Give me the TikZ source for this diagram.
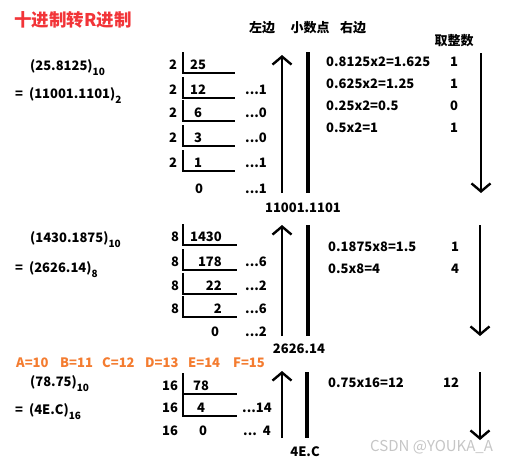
\documentclass[tikz,border=0pt]{standalone}
\usepackage{fontspec}
\setmainfont{Noto Sans CJK SC}
\usetikzlibrary{arrows.meta}
\definecolor{titlered}{RGB}{242,52,56}
\definecolor{hexorange}{RGB}{244,124,48}
\newcommand{\lowidx}[1]{\raisebox{-5pt}{\fontsize{10}{10}\selectfont #1}}

\begin{document}
\begin{tikzpicture}[x=1pt,y=-1pt,
  txt/.style={font=\bfseries\fontsize{13}{13}\selectfont,inner sep=0pt},
  bracket/.style={line width=2pt},
  divbar/.style={line width=4pt},
  uparr/.style={line width=2.4pt,-{Straight Barb[length=8pt,width=19pt,line width=2.4pt]}},
  downarr/.style={uparr}]%
  \useasboundingbox (0,0) rectangle (521,463);
  \fill[white] (0,0) rectangle (521,463);
  \node[txt,text=titlered,font=\bfseries\fontsize{17.5}{17.5}\selectfont,anchor=west] (title) at (14,20) {十进制转R进制};
  \node[txt] (left) at (262,28) {左边};
  \node[txt] (point) at (310,28) {小数点};
  \node[txt] (right) at (353,28) {右边};
  \node[txt] (takeint) at (454,41) {取整数};

  % 25.8125 -> base 2
  \node[txt,anchor=west] (numa) at (30,68) {(25.8125)\lowidx{10}};
  \node[txt,anchor=west] (resa) at (15,96) {=\ \ (11001.1101)\lowidx{2}};
  \foreach \q/\y [count=\i] in {25/65,12/90,6/113,3/138,1/163} {
    \node[txt] (da\i) at (173,\y) {2};
    \node[txt] (qa\i) at (198,\y) {\q};
    \draw[bracket] (183,\y-13) |- (235,\y+8);
  }
  \node[txt] (qa6) at (199,189) {0};
  \foreach \r/\y [count=\i] in {1/90,0/113,0/138,1/163,1/189}
  \node[txt,anchor=west] (ra\i) at (245,\y) {...\r};
  \coordinate (upa0) at (282,193);
  \coordinate (upa1) at (282,55);
  \draw[uparr] (upa0) -- (upa1);
  \coordinate (bara0) at (308,52);
  \coordinate (bara1) at (308,193);
  \draw[divbar] (bara0) -- (bara1);
  \node[txt] (binres) at (303,208) {11001.1101};
  \foreach \t/\d/\y [count=\i] in {0.8125x2=1.625/1/62,0.625x2=1.25/1/84,0.25x2=0.5/0/106,0.5x2=1/1/128} {
    \node[txt,anchor=west] (ma\i) at (326,\y) {\t};
    \node[txt] (ia\i) at (454,\y) {\d};
  }
  \coordinate (dna0) at (481,53);
  \coordinate (dna1) at (481,193);
  \draw[downarr] (dna0) -- (dna1);

  % 1430.1875 -> base 8
  \node[txt,anchor=west] (numb) at (30,240) {(1430.1875)\lowidx{10}};
  \node[txt,anchor=west] (resb) at (15,270) {=\ \ (2626.14)\lowidx{8}};
  \foreach \q/\y [count=\i] in {1430/237,178/262,22/286,2/309} {
    \node[txt] (db\i) at (175,\y) {8};
    \node[txt,anchor=east] (qb\i) at (222,\y) {\q};
    \draw[bracket] (183,\y-13) |- (237,\y+8);
  }
  \node[txt] (qb5) at (215,332) {0};
  \foreach \r/\y [count=\i] in {6/262,2/286,6/309,2/332}
  \node[txt,anchor=west] (rb\i) at (245,\y) {...\r};
  \coordinate (upb0) at (282,336);
  \coordinate (upb1) at (282,225);
  \draw[uparr] (upb0) -- (upb1);
  \coordinate (barb0) at (308,225);
  \coordinate (barb1) at (308,336);
  \draw[divbar] (barb0) -- (barb1);
  \node[txt] (octres) at (299,349) {2626.14};
  \foreach \t/\d/\y [count=\i] in {0.1875x8=1.5/1/247,0.5x8=4/4/269} {
    \node[txt,anchor=west] (mb\i) at (328,\y) {\t};
    \node[txt] (ib\i) at (455,\y) {\d};
  }
  \coordinate (dnb0) at (480,225);
  \coordinate (dnb1) at (480,336);
  \draw[downarr] (dnb0) -- (dnb1);

  % 78.75 -> base 16
  \foreach \h/\x [count=\i] in {A=10/16,B=11/60,C=12/102,D=13/145,E=14/188,F=15/233}
  \node[txt,text=hexorange,anchor=west] (hx\i) at (\x,363) {\h};
  \node[txt,anchor=west] (numc) at (30,384) {(78.75)\lowidx{10}};
  \node[txt,anchor=west] (resc) at (15,412) {=\ \ (4E.C)\lowidx{16}};
  \foreach \q/\y [count=\i] in {78/386,4/408} {
    \node[txt] (dc\i) at (170,\y) {16};
    \node[txt] (qc\i) at (201,\y) {\q};
    \draw[bracket] (183,\y-13) |- (237,\y+8);
  }
  \node[txt] (dc3) at (170,431) {16};
  \node[txt] (qc3) at (203,431) {0};
  \node[txt,anchor=west] (rc1) at (242,408) {...14};
  \node[txt,anchor=west] (rc2) at (243,431) {...\ \ 4};
  \coordinate (upc0) at (282,438);
  \coordinate (upc1) at (282,371);
  \draw[uparr] (upc0) -- (upc1);
  \coordinate (barc0) at (307,372);
  \coordinate (barc1) at (307,438);
  \draw[divbar] (barc0) -- (barc1);
  \node[txt] (hexres) at (305,452) {4E.C};
  \node[txt,anchor=west] (mc1) at (328,383) {0.75x16=12};
  \node[txt] (ic1) at (451,383) {12};
  \coordinate (dnc0) at (480,372);
  \coordinate (dnc1) at (480,440);
  \draw[downarr] (dnc0) -- (dnc1);
  \node[txt,font=\fontsize{15}{15}\selectfont,text=gray!45,anchor=west] (mark) at (370,447) {CSDN @YOUKA\_A};
\end{tikzpicture}
\end{document}
